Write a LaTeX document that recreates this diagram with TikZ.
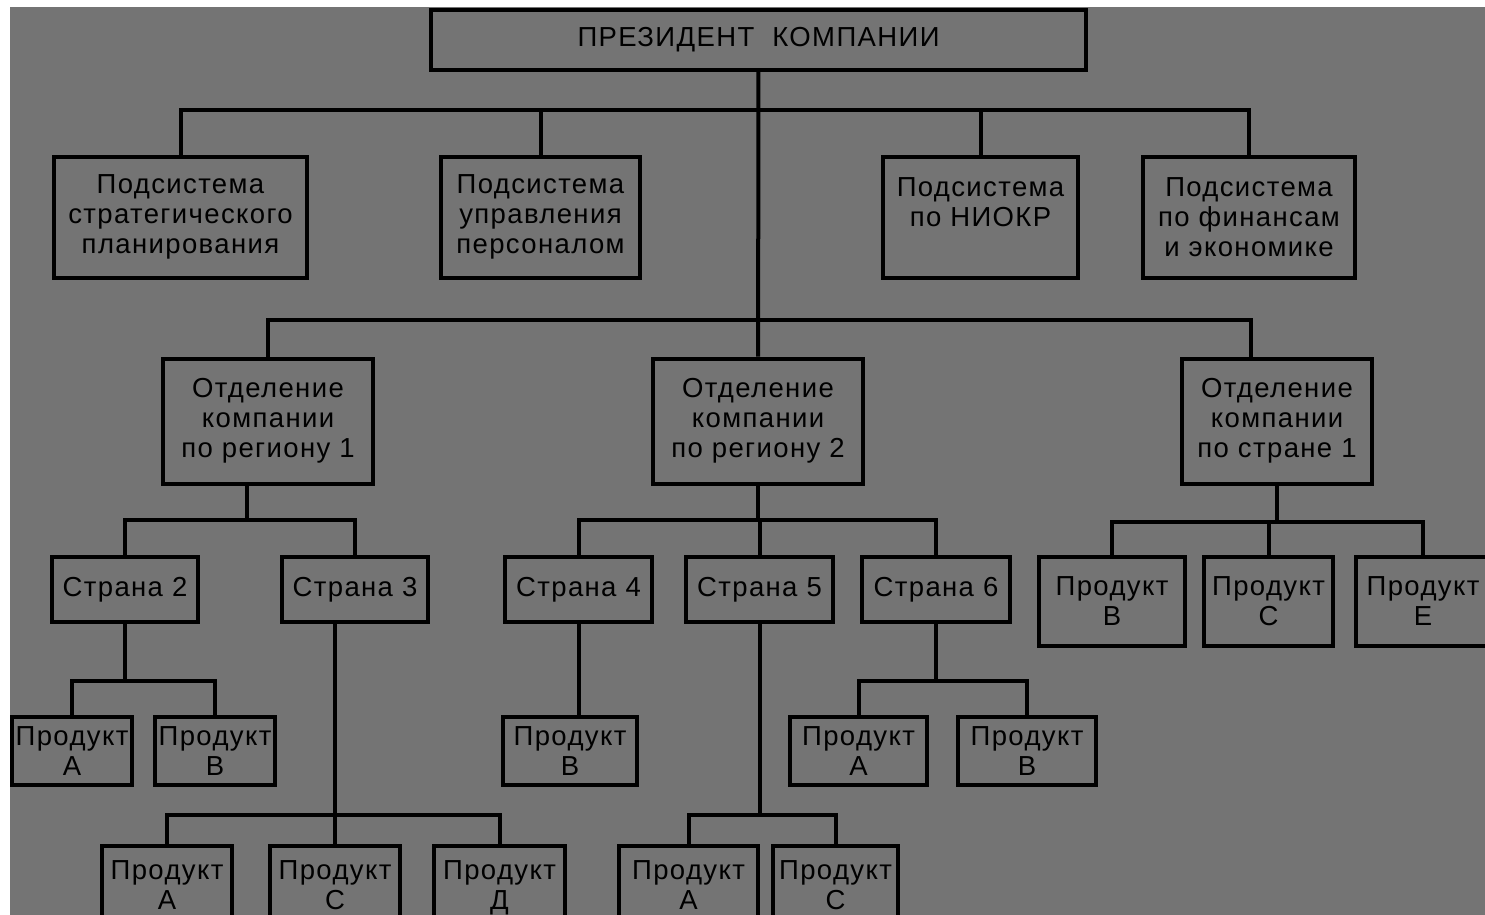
\documentclass[tikz,border=0pt]{standalone}
\usepackage{fontspec}
\setmainfont{Liberation Sans}[LetterSpace=5]
\definecolor{boardgray}{RGB}{116,116,116}
\tikzset{
  unit/.style={draw, line width=4pt, align=center, inner sep=0pt,
    font=\fontsize{27.5}{30}\selectfont},
  link/.style={line width=4pt},
}
\begin{document}
\begin{tikzpicture}[x=1pt,y=-1pt]
  \useasboundingbox (0,0) rectangle (1485,915);
  \fill[white] (0,0) rectangle (1485,915);
  \fill[boardgray] (10,7) rectangle (1485,915);
  \clip (10,7) rectangle (1485,915);

  % president
  \node[unit, minimum width=655pt, minimum height=60pt] (pres) at (758.5,40) {ПРЕЗИДЕНТ~~КОМПАНИИ};

  % subsystems
  \node[unit, minimum width=253pt, minimum height=121pt] (sub1) at (180.5,217) {Подсистема\\стратегического\\планирования};
  \node[unit, minimum width=199pt, minimum height=121pt] (sub2) at (540.5,217) {Подсистема\\управления\\персоналом};
  \node[unit, minimum width=195pt, minimum height=121pt] (sub3) at (980.5,217) {Подсистема\\по НИОКР\\~};
  \node[unit, minimum width=212pt, minimum height=121pt] (sub4) at (1249,217) {Подсистема\\по финансам\\и экономике};

  % divisions
  \node[unit, minimum width=210pt, minimum height=125pt] (div1) at (268,421) {Отделение\\компании\\по региону 1};
  \node[unit, minimum width=210pt, minimum height=125pt] (div2) at (758,421) {Отделение\\компании\\по региону 2};
  \node[unit, minimum width=190pt, minimum height=125pt] (div3) at (1277,421) {Отделение\\компании\\по стране 1};

  % countries
  \node[unit, minimum width=146pt, minimum height=65pt] (cntry2) at (125,589.5) {Страна 2};
  \node[unit, minimum width=146pt, minimum height=65pt] (cntry3) at (355,589.5) {Страна 3};
  \node[unit, minimum width=147pt, minimum height=65pt] (cntry4) at (578.5,589.5) {Страна 4};
  \node[unit, minimum width=147pt, minimum height=65pt] (cntry5) at (759.5,589.5) {Страна 5};
  \node[unit, minimum width=148pt, minimum height=65pt] (cntry6) at (936,589.5) {Страна 6};

  % products of country 1
  \node[unit, minimum width=146pt, minimum height=89pt] (prod1b) at (1112,601.5) {Продукт\\В};
  \node[unit, minimum width=129pt, minimum height=89pt] (prod1c) at (1268.5,601.5) {Продукт\\С};
  \node[unit, minimum width=134pt, minimum height=89pt] (prod1e) at (1423,601.5) {Продукт\\Е};

  % products, middle row
  \node[unit, minimum width=120pt, minimum height=68pt] (prod2a) at (72,751) {Продукт\\А};
  \node[unit, minimum width=120pt, minimum height=68pt] (prod2b) at (215,751) {Продукт\\В};
  \node[unit, minimum width=134pt, minimum height=68pt] (prod4b) at (570,751) {Продукт\\В};
  \node[unit, minimum width=137pt, minimum height=68pt] (prod6a) at (858.5,751) {Продукт\\А};
  \node[unit, minimum width=138pt, minimum height=68pt] (prod6b) at (1027,751) {Продукт\\В};

  % products, bottom row
  \node[unit, minimum width=130pt, minimum height=79pt] (prod3a) at (167,885.5) {Продукт\\А};
  \node[unit, minimum width=130pt, minimum height=79pt] (prod3c) at (335,885.5) {Продукт\\С};
  \node[unit, minimum width=131pt, minimum height=79pt] (prod3d) at (499.5,885.5) {Продукт\\\smash{Д}};
  \node[unit, minimum width=139pt, minimum height=79pt] (prod5a) at (688.5,885.5) {Продукт\\А};
  \node[unit, minimum width=125pt, minimum height=79pt] (prod5c) at (835.5,885.5) {Продукт\\С};

  % bus points
  \coordinate (bus1) at (758,110);
  \coordinate (bus2) at (758,320);
  \coordinate (join1) at (247,520);
  \coordinate (join2) at (758,520);
  \coordinate (join3) at (1277,522);
  \coordinate (join4) at (125,681);
  \coordinate (join5) at (936,681);
  \coordinate (join6) at (335,815);
  \coordinate (join7) at (759.5,815);

  % connectors
  \draw[link] (pres) -- (div2);
  \foreach \n in {sub1,sub2,sub3,sub4}
    \draw[link] (bus1) -| (\n.north);
  \draw[link] (bus2) -| (div1.north);
  \draw[link] (bus2) -| ([xshift=-26pt]div3.north);

  \draw[link] ([xshift=-21pt]div1.south) -- (join1);
  \draw[link] (join1) -| (cntry2.north);
  \draw[link] (join1) -| (cntry3.north);
  \draw[link] (div2) -- (join2);
  \foreach \n in {cntry4,cntry5,cntry6}
    \draw[link] (join2) -| (\n.north);
  \draw[link] (div3) -- (join3);
  \foreach \n in {prod1b,prod1c,prod1e}
    \draw[link] (join3) -| (\n.north);

  \draw[link] (cntry2) -- (join4);
  \draw[link] (join4) -| (prod2a.north);
  \draw[link] (join4) -| (prod2b.north);
  \draw[link] (cntry4.south) -- (cntry4.south |- prod4b.north);
  \draw[link] (cntry6) -- (join5);
  \draw[link] (join5) -| (prod6a.north);
  \draw[link] (join5) -| (prod6b.north);

  \draw[link] ([xshift=-20pt]cntry3.south) -- (join6);
  \foreach \n in {prod3a,prod3c,prod3d}
    \draw[link] (join6) -| (\n.north);
  \draw[link] (cntry5) -- (join7);
  \draw[link] (join7) -| (prod5a.north);
  \draw[link] (join7) -| (prod5c.north);
\end{tikzpicture}
\end{document}
